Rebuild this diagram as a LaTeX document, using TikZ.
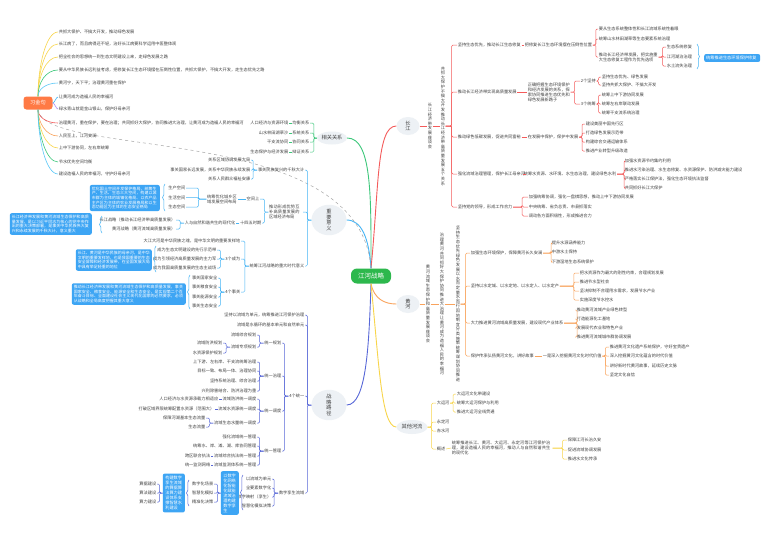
\documentclass[tikz,border=0pt]{standalone}
\usepackage{fontspec}
\newfontfamily\cjk{Noto Sans CJK SC}
\XeTeXlinebreaklocale "zh"
\XeTeXlinebreakskip=0pt plus 0.5pt
\usetikzlibrary{shapes.geometric,decorations.pathreplacing,calc}
\definecolor{txtgray}{HTML}{404040}
\definecolor{topicgray}{HTML}{EDF1F5}
\definecolor{centergreen}{HTML}{2DB84D}
\definecolor{xjorange}{HTML}{FF7A45}
\definecolor{boxblue}{HTML}{3DA5F4}
\definecolor{cjred}{HTML}{F45B5B}
\definecolor{hhorange}{HTML}{F9A35C}
\definecolor{qtyellow}{HTML}{F8D54A}
\definecolor{xggreen}{HTML}{3CC77A}
\definecolor{zyblue}{HTML}{45B4F5}
\definecolor{zlindigo}{HTML}{5868D8}
\definecolor{skyblue}{HTML}{5BC8F8}
\definecolor{jpurple}{HTML}{B28DF5}
\newcommand\brR[4][4]{\draw[#4,brk] (#2.east) -- ++(#1,0) |- (#3.west);}
\newcommand\brL[4][4]{\draw[#4,brk] (#2.west) -- ++(-#1,0) |- (#3.east);}
\begin{document}
\begin{tikzpicture}[x=1pt,y=-1pt,
  txt/.style={font=\cjk\fontsize{4.2}{5}\selectfont,text=txtgray,inner sep=0.6pt},
  rtext/.style={txt,anchor=west},
  ltext/.style={txt,anchor=east},
  vcol/.style={txt,font=\cjk\fontsize{4.2}{4.6}\selectfont,text width=4.4pt,align=center,inner sep=0.3pt},
  topic/.style={ellipse,fill=topicgray,text=txtgray,font=\cjk\fontsize{5.2}{5.6}\selectfont,inner sep=0pt},
  vtopic/.style={topic,text width=5.6pt,align=center},
  sumbox/.style={fill=boxblue,text=white,rounded corners=2pt,font=\cjk\fontsize{4}{4.6}\selectfont,align=left,inner sep=2pt},
  brk/.style={line width=0.5pt,rounded corners=1.2pt},
  trunk/.style={line width=0.9pt},
  sumbrace/.style={decorate,decoration={brace,amplitude=2.5pt},line width=0.5pt}]
\fill[white] (0,0) rectangle (771,552);
\useasboundingbox (0,0) rectangle (771,552);

\node[fill=centergreen,text=white,rounded corners=6pt,minimum width=40pt,minimum height=15pt,font=\cjk\fontsize{6.5}{7}\selectfont] (jh) at (371,276) {江河战略};
\node[topic,minimum width=30pt,minimum height=13pt] (xg) at (332,138) {相关关系};
\node[vtopic,minimum width=35pt,minimum height=28pt] (zy) at (329,220) {重要意义};
\node[vtopic,minimum width=35pt,minimum height=30pt] (lj) at (329,405) {战略路径};
\node[vtopic,minimum width=23pt,minimum height=18pt] (cj) at (408,126) {长江};
\node[vtopic,minimum width=23pt,minimum height=18pt] (hh) at (408,304) {黄河};
\node[topic,minimum width=31pt,minimum height=14pt] (qt) at (412,427) {其他河流};
\node[fill=xjorange,text=white,rounded corners=3pt,minimum width=29pt,minimum height=13pt,font=\cjk\fontsize{5.2}{6}\selectfont] (xj) at (38,103) {习金句};

\draw[xggreen,trunk] (jh.north) .. controls +(0,-70) and +(25,0) .. (xg.east);
\draw[cjred,trunk] (jh.north) .. controls +(8,-80) and +(-20,0) .. (cj.west);
\draw[zyblue,trunk] (jh.north) .. controls +(-2,-30) and +(15,0) .. (zy.east);
\draw[zlindigo,trunk] (jh.south) .. controls +(-2,60) and +(20,0) .. (lj.east);
\draw[hhorange,trunk] (jh.south) .. controls +(3,15) and +(-12,0) .. (hh.west);
\draw[qtyellow,trunk] (jh.south) .. controls +(8,80) and +(-15,0) .. (qt.west);
\draw[gray!70,dashed,line width=0.5pt] (xj.south) .. controls (45,160) and (360,120) .. (jh.north);

\node[rtext] (j1) at (58,32) {共抓大保护、不搞大开发，推动绿色发展};
\node[rtext] (j2) at (58,44) {长江病了，而且病得还不轻，治好长江病要科学运用中医整体观};
\node[rtext] (j3) at (58,57) {把全社会的思想统一到生态文明建设上来，走绿色发展之路};
\node[rtext] (j4) at (58,70) {要从中华民族长远利益考虑，把修复长江生态环境摆在压倒性位置，共抓大保护，不搞大开发，走生态优先之路};
\node[rtext] (j5) at (58,83) {黄河宁，天下平；治理黄河重在保护};
\node[rtext] (j6) at (58,97) {让黄河成为造福人民的幸福河};
\node[rtext] (j7) at (58,109) {绿水青山就是金山银山，保护好母亲河};
\node[rtext] (j8) at (58,123) {治理黄河，重在保护，要在治理；共同抓好大保护，协同推进大治理，让黄河成为造福人民的幸福河};
\node[rtext] (j9) at (58,136) {人民至上，江河安澜};
\node[rtext] (j10) at (58,148) {上中下游协同，左右岸统筹};
\node[rtext] (j11) at (58,162) {节水优先空间均衡};
\node[rtext] (j12) at (58,174) {建设造福人民的幸福河，守护好母亲河};
\foreach \n/\c/\h in {j1/qtyellow/30,j2/qtyellow/25,j3/qtyellow/20,j4/xggreen/14,j5/skyblue/7}
  \draw[\c,line width=0.6pt] (xj.north) .. controls +(0,-\h) and +(-12,0) .. (\n.west);
\foreach \n/\c/\h in {j8/cjred/7,j9/hhorange/13,j10/qtyellow/18,j11/xggreen/24,j12/skyblue/30}
  \draw[\c,line width=0.6pt] (xj.south) .. controls +(0,\h) and +(-12,0) .. (\n.west);
\draw[zyblue,line width=0.6pt] (xj.east) .. controls +(2,0) and +(-2,0) .. (j6.west);
\draw[jpurple,line width=0.6pt] (xj.east) .. controls +(2,0) and +(-2,0) .. (j7.west);

\node[ltext] (g1r) at (310,123) {均衡关系};
\node[ltext] (g2r) at (310,133) {系统关系};
\node[ltext] (g3r) at (310,142) {协同关系};
\node[ltext] (g4r) at (310,152) {辩证关系};
\node[ltext] (g1l) at (289,123) {人口经济与资源环境};
\node[ltext] (g2l) at (289,133) {山水林田湖草沙};
\node[ltext] (g3l) at (289,142) {干支流协同};
\node[ltext] (g4l) at (289,152) {生态保护与经济发展};
\foreach \i in {1,...,4}{
  \brL[3]{xg}{g\i r}{xggreen}
  \draw[xggreen,brk] (g\i l.east) -- (g\i r.west);
}

\node[ltext] (za) at (305,170) {事关民族复兴的千秋大计};
\node[ltext,text width=33pt,align=left] (zb) at (303,212) {推动形成优势互补高质量发展的区域经济布局};
\node[ltext] (zc) at (305,266) {统筹江河战略的重大时代意义};
\brL{zy}{za}{zyblue}
\brL{zy}{zb}{zyblue}
\brL{zy}{zc}{zyblue}
\node[ltext] (za1) at (251,160) {关系区域协调发展大局};
\node[ltext] (za2) at (251,170) {事关国家长远发展，关系中华民族永续发展};
\node[ltext] (za3) at (251,179) {关系人民群众福祉安康};
\brL{za}{za1}{zyblue}
\brL{za}{za2}{zyblue}
\brL{za}{za3}{zyblue}
\node[ltext] (zb1) at (260,199) {空间上};
\node[ltext] (zb2) at (262,223) {十四五时期};
\brL{zb}{zb1}{zyblue}
\brL{zb}{zb2}{zyblue}
\node[ltext,text width=30pt,align=left] (zb11) at (238,199) {统筹优化城乡区域发展空间布局};
\draw[zyblue,brk] (zb1.west) -- (zb11.east);
\node[ltext] (zs1) at (186,188) {生产空间};
\node[ltext] (zs2) at (186,197.5) {生活空间};
\node[ltext] (zs3) at (186,207) {生态空间};
\brL[8]{zb11}{zs1}{zyblue}
\brL[8]{zb11}{zs2}{zyblue}
\brL[8]{zb11}{zs3}{zyblue}
\draw[zyblue,sumbrace] (165,211) -- (165,184);
\node[sumbox,anchor=east,text width=66pt] (bb1) at (160,198) {优化国土空间开发保护格局，统筹生产、生活、生态三大空间，构建以城市群为主体的城镇化格局、以农产品主产区为主体的农业发展格局和以生态功能区为主体的生态安全格局};
\node[ltext] (zb21) at (236,223) {人与自然和谐共生的现代化};
\draw[zyblue,brk] (zb2.west) -- (zb21.east);
\node[ltext] (zt1) at (176,220) {长江战略（推动长江经济带高质量发展）};
\node[ltext] (zt2) at (176,229) {黄河战略（黄河流域高质量发展）};
\brL{zb21}{zt1}{zyblue}
\brL{zb21}{zt2}{zyblue}
\draw[zyblue,sumbrace] (102,233) -- (102,216);
\node[sumbox,anchor=east,text width=78pt] (bb2) at (92,224) {长江经济带发展和黄河流域生态保护和高质量发展，是以习近平同志为核心的党中央作出的重大决策部署，是事关中华民族伟大复兴和永续发展的千秋大计，意义重大};
\node[ltext] (zc1) at (241,241) {大江大河是中华民族之魂，是中华文明的重要发祥地};
\node[ltext] (zc2) at (241,259) {3个成为};
\node[ltext] (zc3) at (241,292) {4个事关};
\brL{zc}{zc1}{zyblue}
\brL{zc}{zc2}{zyblue}
\brL{zc}{zc3}{zyblue}
\node[ltext] (zc21) at (217,250) {成为生态文明建设的先行示范带};
\node[ltext] (zc22) at (217,259) {成为引领经济高质量发展的主力军};
\node[ltext] (zc23) at (217,268) {成为我国高质量发展的生态主战场};
\brL{zc2}{zc21}{zyblue}
\brL{zc2}{zc22}{zyblue}
\brL{zc2}{zc23}{zyblue}
\draw[zyblue,sumbrace] (156,272) -- (156,246);
\node[sumbox,anchor=east,text width=72pt] (bb3) at (152,260) {长江、黄河是中华民族的母亲河，是中华文明的重要发祥地，也是我国重要的生态安全屏障和经济发展带，在全国发展大局中具有举足轻重的地位};
\node[ltext] (zc31) at (218,278) {事关国家安全};
\node[ltext] (zc32) at (218,287) {事关粮食安全};
\node[ltext] (zc33) at (218,297) {事关能源安全};
\node[ltext] (zc34) at (218,306) {事关生态安全};
\foreach \i in {1,...,4}{\brL{zc3}{zc3\i}{zyblue}}
\draw[zyblue,sumbrace] (190,309) -- (190,275);
\node[sumbox,anchor=east,text width=110pt] (bb4) at (186,294) {推动长江经济带发展和黄河流域生态保护和高质量发展，事关国家安全、粮食安全、能源安全和生态安全，是实现第二个百年奋斗目标、全面建设社会主义现代化国家的必然要求，必须从战略和全局高度把握其重大意义};

\node[ltext] (l1) at (305,315) {坚持以流域为单元，统筹推进江河保护治理};
\node[ltext] (l2) at (305,325) {流域是水循环的基本单元和自然单元};
\node[ltext] (l3) at (305,396) {4个统一};
\node[ltext] (l4) at (305,493) {数字孪生流域};
\foreach \i in {1,...,4}{\brL{lj}{l\i}{zlindigo}}
\node[ltext] (l31) at (282,343) {统一规划};
\node[ltext] (l32) at (282,376) {统一治理};
\node[ltext] (l33) at (282,411) {统一调度};
\node[ltext] (l34) at (282,451) {统一管理};
\foreach \i in {1,...,4}{\brL{l3}{l3\i}{zlindigo}}
\node[ltext] (l311) at (257,335) {流域综合规划};
\node[ltext] (l312) at (257,347) {流域专项规划};
\brL{l31}{l311}{zlindigo}
\brL{l31}{l312}{zlindigo}
\node[ltext] (l3121) at (223,343) {流域防洪规划};
\node[ltext] (l3122) at (223,353) {水资源保护规划};
\brL{l312}{l3121}{zlindigo}
\brL{l312}{l3122}{zlindigo}
\node[ltext] (l321) at (257,362) {上下游、左右岸、干支流统筹治理};
\node[ltext] (l322) at (257,371) {目标一致、布局一体、治理协同};
\node[ltext] (l323) at (257,381) {坚持系统治理、综合治理};
\node[ltext] (l324) at (257,391) {兴利除害结合、防洪治理为重};
\foreach \i in {1,...,4}{\brL{l32}{l32\i}{zlindigo}}
\node[ltext] (l331) at (257,399) {流域防洪统一调度};
\node[ltext] (l332) at (257,409) {流域水资源统一调度};
\node[ltext] (l333) at (257,423) {流域生态水量统一调度};
\foreach \i in {1,...,3}{\brL{l33}{l33\i}{zlindigo}}
\node[ltext] (l331a) at (219,399) {人口经济与水资源承载力相适应};
\node[ltext] (l332a) at (215,409) {打破区域界限统筹配置水资源（范围大）};
\draw[zlindigo,brk] (l331.west) -- (l331a.east);
\draw[zlindigo,brk] (l332.west) -- (l332a.east);
\node[ltext] (l333a) at (206,418) {保障河湖基本生态流量};
\node[ltext] (l333b) at (206,427) {生态流量};
\brL{l333}{l333a}{zlindigo}
\brL{l333}{l333b}{zlindigo}
\node[ltext] (l341) at (257,437) {强化流域统一管理};
\node[ltext] (l342) at (257,446) {统筹水、岸、滩、湖、库协同管理};
\node[ltext] (l343) at (257,456) {流域综合执法统一管理};
\node[ltext] (l344) at (257,465) {流域监测体系统一管理};
\foreach \i in {1,...,4}{\brL{l34}{l34\i}{zlindigo}}
\node[ltext] (l343a) at (211,456) {跨区联合执法};
\node[ltext] (l344a) at (211,465) {统一监测网络};
\draw[zlindigo,brk] (l343.west) -- (l343a.east);
\draw[zlindigo,brk] (l344.west) -- (l344a.east);
\node[ltext] (l41) at (272,479) {以流域为单元};
\node[ltext] (l42) at (272,488) {全要素数字化};
\node[ltext] (l43) at (272,497) {数字映射（孪生）};
\node[ltext] (l44) at (272,506) {智慧化模拟决策};
\foreach \i in {1,...,4}{\brL{l4}{l4\i}{zlindigo}}
\draw[zlindigo,sumbrace] (243,510) -- (243,475);
\node[sumbox,anchor=east,text width=13pt,font=\cjk\fontsize{4.2}{5}\selectfont,inner sep=2.5pt] (bb5) at (239,493) {以数字化网络化智能化赋能流域治理构建数字孪生};
\node[ltext] (b51) at (214,484) {数字化场景};
\node[ltext] (b52) at (214,493) {智慧化模拟};
\node[ltext] (b53) at (214,502) {精准化决策};
\foreach \i in {1,...,3}{\brL[3]{bb5}{b5\i}{zlindigo}}
\draw[zlindigo,sumbrace] (189,506) -- (189,480);
\node[sumbox,anchor=east,text width=17pt,font=\cjk\fontsize{4.2}{5}\selectfont,inner sep=2.5pt] (bb6) at (185,493) {构建数字孪生流域的算据算法算力建设体系支撑智慧水利建设};
\node[ltext] (b61) at (157,484) {算据建设};
\node[ltext] (b62) at (157,493) {算法建设};
\node[ltext] (b63) at (157,502) {算力建设};
\foreach \i in {1,...,3}{\brL[3]{bb6}{b6\i}{zlindigo}}

\node[vcol] (cjc1) at (430,126) {长江经济带发展座谈会};
\node[vcol] (cjc2) at (443,126) {共抓大保护不搞大开发推动长江经济带高质量发展五个关系};
\draw[cjred,brk] (cj.east) -- (cjc1.west);
\draw[cjred,brk] (cjc1.east) -- (cjc2.west);
\node[rtext] (k1) at (457,45) {坚持生态优先，推动长江生态修复};
\node[rtext] (k2) at (457,92) {推动长江经济带实现高质量发展};
\node[rtext] (k3) at (457,137) {推动绿色低碳发展，促进共同富裕};
\node[rtext] (k4) at (457,174) {强化流域治理管理，保护长江母亲河};
\node[rtext] (k5) at (457,207) {坚持党的领导，形成工作合力};
\foreach \i in {1,...,5}{\brR[6]{cjc2}{k\i}{cjred}}
\node[rtext] (k1a) at (524,45) {把修复长江生态环境摆在压倒性位置};
\draw[cjred,brk] (k1.east) -- (k1a.west);
\node[rtext] (k1a1) at (598,29) {要从生态系统整体性和长江流域系统性着眼};
\node[rtext] (k1a2) at (598,39) {统筹山水林田湖草等生态要素系统治理};
\node[rtext,text width=59pt,align=left] (k1a3) at (598,57) {推动长江经济带发展，把实施重大生态修复工程作为优先选项};
\foreach \i in {1,...,3}{\brR[3]{k1a}{k1a\i}{cjred}}
\node[rtext] (k1b1) at (666,47) {生态系统修复};
\node[rtext] (k1b2) at (666,57) {江河湖泊治理};
\node[rtext] (k1b3) at (666,66) {水土流失治理};
\foreach \i in {1,...,3}{\brR{k1a3}{k1b\i}{cjred}}
\draw[zyblue,sumbrace] (697,44) -- (697,69);
\node[sumbox,anchor=west,text width=52pt,font=\cjk\fontsize{4.2}{5}\selectfont] (bb0) at (704,58) {统筹推进生态环境保护修复};
\node[rtext,text width=42pt,align=left] (k2a) at (527,92) {正确把握生态环境保护和经济发展的关系，探索协同推进生态优先和绿色发展新路子};
\draw[cjred,brk] (k2.east) -- (k2a.west);
\node[rtext] (k2b1) at (580,81) {2个坚持};
\node[rtext] (k2b2) at (580,104) {3个统筹};
\brR{k2a}{k2b1}{cjred}
\brR{k2a}{k2b2}{cjred}
\node[rtext] (k2c1) at (601,77) {坚持生态优先、绿色发展};
\node[rtext] (k2c2) at (601,85) {坚持共抓大保护、不搞大开发};
\brR[2]{k2b1}{k2c1}{cjred}
\brR[2]{k2b1}{k2c2}{cjred}
\node[rtext] (k2d1) at (601,95) {统筹上中下游协同发展};
\node[rtext] (k2d2) at (601,104) {统筹左右岸联动发展};
\node[rtext] (k2d3) at (601,113) {统筹干支流系统治理};
\foreach \i in {1,...,3}{\brR[2]{k2b2}{k2d\i}{cjred}}
\node[rtext] (k3a) at (527,137) {在发展中保护，保护中发展};
\draw[cjred,brk] (k3.east) -- (k3a.west);
\node[rtext] (k3b1) at (585,124) {建设美丽中国先行区};
\node[rtext] (k3b2) at (585,133) {打造绿色发展示范带};
\node[rtext] (k3b3) at (585,142) {构建综合交通运输体系};
\node[rtext] (k3b4) at (585,151) {推进产业转型升级改造};
\foreach \i in {1,...,4}{\brR[3]{k3a}{k3b\i}{cjred}}
\node[rtext] (k4a) at (523,174) {统筹水资源、水环境、水生态治理，建设绿色水利};
\draw[cjred,brk] (k4.east) -- (k4a.west);
\node[rtext] (k4b1) at (624,161) {加强水资源节约集约利用};
\node[rtext] (k4b2) at (624,170) {推进水污染治理、水生态修复、水资源保护、防洪减灾能力建设};
\node[rtext] (k4b3) at (624,179) {严格落实长江保护法，强化生态环境执法监督};
\node[rtext] (k4b4) at (624,188) {共同抓好长江大保护};
\foreach \i in {1,...,4}{\brR[7]{k4a}{k4b\i}{cjred}}
\node[rtext] (k5a) at (528,197) {加强统筹协调，强化一盘棋思想，推动上中下游协同发展};
\node[rtext] (k5b) at (528,207) {中央统筹、省负总责、市县抓落实};
\node[rtext] (k5c) at (528,216) {调动各方面积极性，形成推进合力};
\foreach \i in {a,b,c}{\brR[9]{k5}{k5\i}{cjred}}

\node[vcol] (hhc1) at (428,304) {黄河流域生态保护和高质量发展座谈会};
\node[vcol] (hhc2) at (442,304) {治理黄河共同抓好大保护协同推进大治理让黄河成为造福人民的幸福河};
\node[vcol] (hhc3) at (458,304) {坚持生态优先绿色发展以水而定量水而行因地制宜分类施策统筹谋划协同推进};
\draw[hhorange,brk] (hh.east) -- (hhc1.west);
\draw[hhorange,brk] (hhc1.east) -- (hhc2.west);
\draw[hhorange,brk] (hhc2.east) -- (hhc3.west);
\node[rtext] (h1) at (470,253) {加强生态环境保护，保障黄河长久安澜};
\node[rtext] (h2) at (470,286) {坚持以水定城、以水定地、以水定人、以水定产};
\node[rtext] (h3) at (470,323) {大力推进黄河流域高质量发展，建设现代产业体系};
\node[rtext] (h4) at (470,356) {保护传承弘扬黄河文化，讲好故事};
\foreach \i in {1,...,4}{\brR[5]{hhc3}{h\i}{hhorange}}
\node[rtext] (h1a) at (551,243) {提升水源涵养能力};
\node[rtext] (h1b) at (551,252) {中游水土保持};
\node[rtext] (h1c) at (551,262) {下游湿地生态系统保护};
\foreach \i in {a,b,c}{\brR[8]{h1}{h1\i}{hhorange}}
\node[rtext] (h2a) at (579,273) {把水资源作为最大的刚性约束，合理规划发展};
\node[rtext] (h2b) at (579,282) {推进节水型社会};
\node[rtext] (h2c) at (579,291) {坚决抑制不合理用水需求，发展节水产业};
\node[rtext] (h2d) at (579,300) {实施深度节水控水};
\foreach \i in {a,b,c,d}{\brR[14]{h2}{h2\i}{hhorange}}
\node[rtext] (h3a) at (576,310) {推动黄河流域产业绿色转型};
\node[rtext] (h3b) at (576,319) {打造能源化工基地};
\node[rtext] (h3c) at (576,328) {发展现代农业和特色产业};
\node[rtext] (h3d) at (576,337) {推进黄河流域城市群协调发展};
\foreach \i in {a,b,c,d}{\brR[13]{h3}{h3\i}{hhorange}}
\node[rtext] (h4a) at (542,356) {一是深入挖掘黄河文化时代价值};
\draw[hhorange,brk] (h4.east) -- (h4a.west);
\node[rtext] (h4b1) at (609,347) {推进黄河文化遗产系统保护，守好宝贵遗产};
\node[rtext] (h4b2) at (609,356) {深入挖掘黄河文化蕴含的时代价值};
\node[rtext] (h4b3) at (609,366) {讲好新时代黄河故事，延续历史文脉};
\node[rtext] (h4b4) at (609,375) {坚定文化自信};
\foreach \i in {1,...,4}{\brR[3]{h4a}{h4b\i}{hhorange}}

\node[rtext] (q1) at (436,403) {大运河};
\node[rtext] (q2) at (436,422) {永定河};
\node[rtext] (q3) at (436,431) {赤水河};
\node[rtext] (q4) at (436,449) {概述};
\foreach \i in {1,...,4}{\brR{qt}{q\i}{qtyellow}}
\node[rtext] (q1a) at (456,394) {大运河文化带建设};
\node[rtext] (q1b) at (456,403) {统筹大运河保护与利用};
\node[rtext] (q1c) at (456,412) {推进大运河全线贯通};
\foreach \i in {a,b,c}{\brR[3]{q1}{q1\i}{qtyellow}}
\node[rtext,text width=100pt,align=left] (q4a) at (451,448) {统筹推进长江、黄河、大运河、永定河等江河保护治理，建设造福人民的幸福河，推动人与自然和谐共生的现代化};
\draw[qtyellow,brk] (q4.east) -- (q4a.west);
\node[rtext] (q4b1) at (567,440) {保障江河长治久安};
\node[rtext] (q4b2) at (567,450) {促进流域协调发展};
\node[rtext] (q4b3) at (567,459) {推进水文化传承};
\foreach \i in {1,...,3}{\brR[10]{q4a}{q4b\i}{qtyellow}}
\end{tikzpicture}
\end{document}
